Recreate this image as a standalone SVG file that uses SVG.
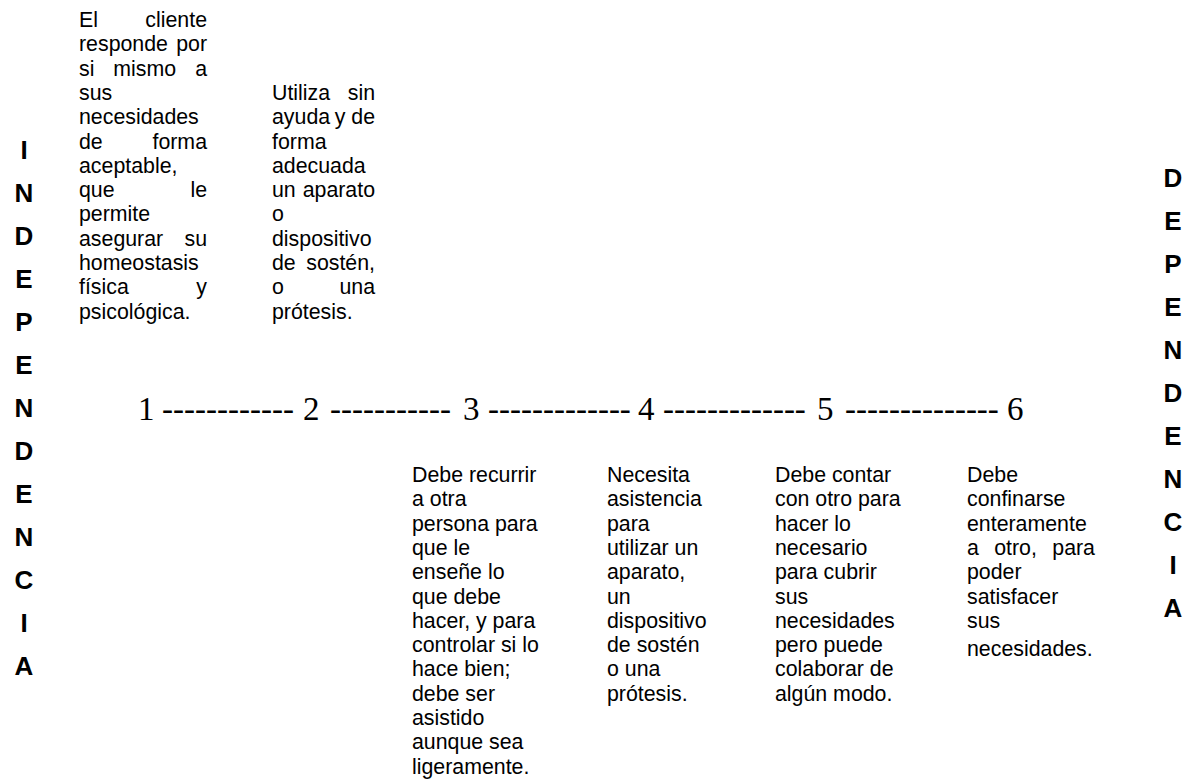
<svg xmlns="http://www.w3.org/2000/svg" width="1196" height="780" viewBox="0 0 1196 780">
<style>
.t{font-family:"Liberation Sans",Arial,sans-serif;font-size:21.33px;fill:#000}
.e{text-anchor:end}
.v{font-family:"Liberation Sans",Arial,sans-serif;font-size:26px;font-weight:bold;fill:#000;text-anchor:middle}
.s{font-family:"Liberation Serif","Times New Roman",serif;font-size:33px;fill:#000}
</style>
<rect width="1196" height="780" fill="#fff"/>
<g id="independencia" class="v">
<text x="24" y="159">I</text><text x="24" y="202">N</text><text x="24" y="245">D</text><text x="24" y="288">E</text><text x="24" y="331">P</text><text x="24" y="374">E</text><text x="24" y="417">N</text><text x="24" y="460">D</text><text x="24" y="503">E</text><text x="24" y="546">N</text><text x="24" y="589">C</text><text x="24" y="632">I</text><text x="24" y="675">A</text>
</g>
<g id="dependencia" class="v">
<text x="1173" y="187">D</text><text x="1173" y="230">E</text><text x="1173" y="273">P</text><text x="1173" y="316">E</text><text x="1173" y="359">N</text><text x="1173" y="402">D</text><text x="1173" y="445">E</text><text x="1173" y="488">N</text><text x="1173" y="531">C</text><text x="1173" y="574">I</text><text x="1173" y="617">A</text>
</g>
<g id="nivel1" class="t">
<text x="79" y="27">El</text><text class="e" x="207" y="27">cliente</text>
<text x="79" y="51.3">responde</text><text class="e" x="207" y="51.3">por</text>
<text x="79" y="75.6">si</text><text x="113.3" y="75.6">mismo</text><text class="e" x="207" y="75.6">a</text>
<text x="79" y="99.9">sus</text>
<text x="79" y="124.2">necesidades</text>
<text x="79" y="148.5">de</text><text class="e" x="207" y="148.5">forma</text>
<text x="79" y="172.8">aceptable,</text>
<text x="79" y="197.1">que</text><text class="e" x="207" y="197.1">le</text>
<text x="79" y="221.4">permite</text>
<text x="79" y="245.7">asegurar</text><text class="e" x="207" y="245.7">su</text>
<text x="79" y="270">homeostasis</text>
<text x="79" y="294.3">física</text><text class="e" x="207" y="294.3">y</text>
<text x="79" y="318.6">psicológica.</text>
</g>
<g id="nivel2" class="t">
<text x="272" y="99.9">Utiliza</text><text class="e" x="375" y="99.9">sin</text>
<text x="272" y="124.2">ayuda</text><text x="334.8" y="124.2">y</text><text class="e" x="375" y="124.2">de</text>
<text x="272" y="148.5">forma</text>
<text x="272" y="172.8">adecuada</text>
<text x="272" y="197.1">un</text><text class="e" x="375" y="197.1">aparato</text>
<text x="272" y="221.4">o</text>
<text x="272" y="245.7">dispositivo</text>
<text x="272" y="270">de</text><text class="e" x="375" y="270">sostén,</text>
<text x="272" y="294.3">o</text><text class="e" x="375" y="294.3">una</text>
<text x="272" y="318.6">prótesis.</text>
</g>
<g id="escala" class="s">
<text y="420"><tspan x="138">1</tspan><tspan x="162">------------</tspan><tspan x="303">2</tspan><tspan x="330">-----------</tspan><tspan x="463">3</tspan><tspan x="488">-------------</tspan><tspan x="638">4</tspan><tspan x="663">-------------</tspan><tspan x="817">5</tspan><tspan x="845">--------------</tspan><tspan x="1007">6</tspan></text>
</g>
<g id="connectors"></g>
<g id="nivel3" class="t">
<text x="412" y="482">Debe recurrir</text>
<text x="412" y="506.3">a otra</text>
<text x="412" y="530.6">persona para</text>
<text x="412" y="554.9">que le</text>
<text x="412" y="579.2">enseñe lo</text>
<text x="412" y="603.5">que debe</text>
<text x="412" y="627.8">hacer, y para</text>
<text x="412" y="652.1">controlar si lo</text>
<text x="412" y="676.4">hace bien;</text>
<text x="412" y="700.7">debe ser</text>
<text x="412" y="725">asistido</text>
<text x="412" y="749.3">aunque sea</text>
<text x="412" y="773.6">ligeramente.</text>
</g>
<g id="nivel4" class="t">
<text x="607" y="482">Necesita</text>
<text x="607" y="506.3">asistencia</text>
<text x="607" y="530.6">para</text>
<text x="607" y="554.9">utilizar un</text>
<text x="607" y="579.2">aparato,</text>
<text x="607" y="603.5">un</text>
<text x="607" y="627.8">dispositivo</text>
<text x="607" y="652.1">de sostén</text>
<text x="607" y="676.4">o una</text>
<text x="607" y="700.7">prótesis.</text>
</g>
<g id="nivel5" class="t">
<text x="775" y="482">Debe contar</text>
<text x="775" y="506.3">con otro para</text>
<text x="775" y="530.6">hacer lo</text>
<text x="775" y="554.9">necesario</text>
<text x="775" y="579.2">para cubrir</text>
<text x="775" y="603.5">sus</text>
<text x="775" y="627.8">necesidades</text>
<text x="775" y="652.1">pero puede</text>
<text x="775" y="676.4">colaborar de</text>
<text x="775" y="700.7">algún modo.</text>
</g>
<g id="nivel6" class="t">
<text x="967" y="482">Debe</text>
<text x="967" y="506.3">confinarse</text>
<text x="967" y="530.6">enteramente</text>
<text x="967" y="554.9">a</text><text x="994.2" y="554.9">otro,</text><text class="e" x="1095" y="554.9">para</text>
<text x="967" y="579.2">poder</text>
<text x="967" y="603.5">satisfacer</text>
<text x="967" y="627.8">sus</text>
<text x="967" y="656">necesidades.</text>
</g>
</svg>
